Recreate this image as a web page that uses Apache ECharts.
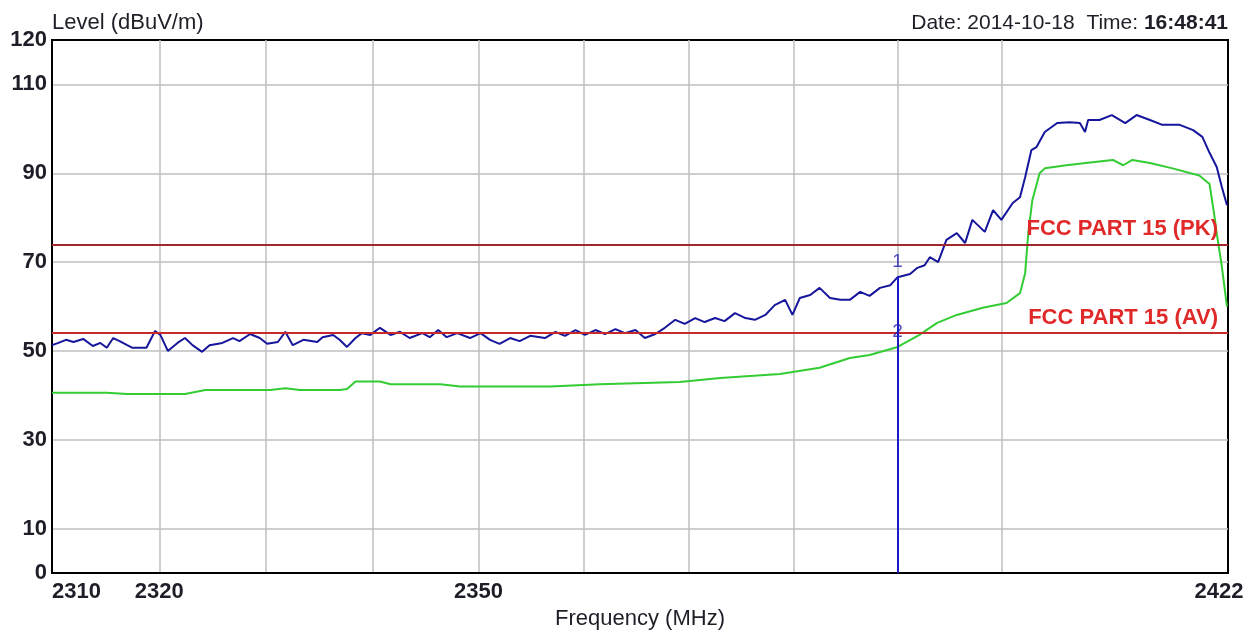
<!DOCTYPE html>
<html>
<head>
<meta charset="utf-8">
<script src="https://cdn.jsdelivr.net/npm/echarts@6/dist/echarts.min.js"></script>
<style>
  html, body { margin: 0; padding: 0; background: #fff; }
  #chart { width: 1249px; height: 634px; }
</style>
</head>
<body>
<div id="chart"></div>
<script>
// Peak detector trace (MHz, dBuV/m)
const peakFreq = [
  2310.0, 2310.6, 2311.3, 2312.0, 2312.9, 2313.8, 2314.5, 2315.1, 2315.7, 2316.3,
  2317.0, 2317.5, 2318.8, 2319.6, 2320.1, 2320.8, 2321.7, 2322.4, 2323.1, 2324.0,
  2324.7, 2325.9, 2326.9, 2327.5, 2328.5, 2329.4, 2330.1, 2331.1, 2331.8, 2332.5,
  2333.5, 2334.8, 2335.3, 2336.3, 2336.9, 2337.6, 2338.4, 2339.0, 2339.8, 2340.7,
  2341.7, 2342.6, 2343.5, 2344.7, 2345.4, 2346.2, 2347.0, 2348.0, 2349.2, 2350.2,
  2351.1, 2352.0, 2353.0, 2353.9, 2354.9, 2356.3, 2357.3, 2358.2, 2359.2, 2360.1,
  2361.1, 2362.0, 2363.0, 2363.9, 2364.9, 2365.8, 2366.8, 2367.7, 2368.7, 2369.6,
  2370.6, 2371.5, 2372.5, 2373.4, 2374.4, 2375.4, 2376.3, 2377.3, 2378.2, 2379.2,
  2379.9, 2380.6, 2381.6, 2382.5, 2383.5, 2384.5, 2385.4, 2386.4, 2387.3, 2388.3,
  2389.3, 2390.0, 2391.2, 2391.9, 2392.6, 2393.1, 2393.9, 2394.7, 2395.7, 2396.5,
  2397.2, 2398.4, 2399.2, 2400.0, 2401.1, 2401.8, 2402.3, 2402.9, 2403.4, 2404.2,
  2405.4, 2406.6, 2407.6, 2408.1, 2408.4, 2409.5, 2410.7, 2412.0, 2413.1, 2414.4,
  2415.6, 2417.3, 2418.6, 2419.5, 2420.2, 2420.9, 2421.4, 2421.9
];
const peakLevel = [
  51.3, 51.8, 52.5, 52.0, 52.7, 51.1, 51.8, 50.7, 52.9, 52.2,
  51.3, 50.7, 50.7, 54.5, 53.6, 50.0, 51.8, 52.9, 51.3, 49.8,
  51.3, 51.8, 52.9, 52.2, 53.8, 52.9, 51.6, 52.0, 54.3, 51.3,
  52.5, 52.0, 53.1, 53.6, 52.5, 50.9, 52.9, 54.0, 53.6, 55.2,
  53.6, 54.3, 52.9, 54.0, 53.1, 54.7, 53.1, 54.0, 52.9, 54.0,
  52.5, 51.6, 52.9, 52.2, 53.4, 52.9, 54.3, 53.4, 54.7, 53.6,
  54.7, 53.8, 54.9, 54.0, 54.7, 52.9, 53.8, 55.2, 57.0, 56.1,
  57.4, 56.5, 57.4, 56.7, 58.5, 57.4, 57.0, 58.1, 60.3, 61.5,
  58.1, 61.9, 62.6, 64.2, 61.9, 61.5, 61.5, 63.3, 62.4, 64.2,
  64.8, 66.6, 67.3, 68.7, 69.3, 71.1, 70.0, 75.0, 76.5, 74.3,
  79.5, 76.8, 81.7, 79.5, 83.3, 84.6, 89.1, 95.2, 95.9, 99.3,
  101.3, 101.5, 101.3, 99.3, 102.0, 102.0, 103.1, 101.3, 103.1, 102.0,
  100.9, 100.9, 99.7, 98.2, 94.6, 91.4, 86.9, 82.8
];

// Average detector trace (MHz, dBuV/m)
const avgFreq = [
  2310.0, 2315.1, 2317.0, 2322.4, 2324.3, 2330.4, 2331.8, 2333.2, 2336.9, 2337.6,
  2338.4, 2340.7, 2341.7, 2346.4, 2348.3, 2356.8, 2361.5, 2369.1, 2373.0, 2378.7,
  2382.5, 2385.4, 2387.3, 2390.0, 2392.1, 2393.8, 2395.7, 2398.2, 2400.5, 2401.8,
  2402.3, 2402.6, 2403.0, 2403.7, 2404.2, 2406.3, 2408.8, 2410.8, 2411.8, 2412.7,
  2414.4, 2416.6, 2419.2, 2420.2, 2420.7, 2420.9, 2421.4, 2421.9
];
const avgLevel = [
  40.6, 40.6, 40.3, 40.3, 41.2, 41.2, 41.6, 41.2, 41.2, 41.4,
  43.1, 43.1, 42.5, 42.5, 42.0, 42.0, 42.5, 43.0, 43.9, 44.8,
  46.2, 48.4, 49.1, 50.9, 53.6, 56.3, 58.1, 59.7, 60.8, 63.0,
  67.5, 76.5, 84.0, 90.0, 91.1, 91.8, 92.5, 93.0, 91.8, 93.0,
  92.3, 91.1, 89.5, 87.6, 80.0, 76.5, 69.0, 60.0
];

// Limit lines
const limitNames = ['FCC PART 15 (PK)', 'FCC PART 15 (AV)'];
const limitLevels = [74, 54];

// Markers at the band edge
const markerNames = ['1', '2'];
const markerFreq = [2390.0, 2390.0];
const markerLevel = [66.6, 50.9];

// Axis ticks and grid
const yLabelValues = [0, 10, 30, 50, 70, 90, 110, 120];
const yGridValues = [10, 30, 50, 70, 90, 110];
const xLabelFreqs = [2310, 2320, 2350, 2422];
const xGridFreqs = [2320, 2330, 2340, 2350, 2360, 2370, 2380, 2390, 2400];
const freqMin = 2310, freqMax = 2422;

// Frequency axis is logarithmic: plot log10(f)
const lx = f => Math.log10(f);
const toPairs = (fs, ls) => fs.map((f, i) => [lx(f), ls[i]]);

const FONT = "'Liberation Sans', Arial, sans-serif";
const TEXT = '#1e1e28';

const chart = echarts.init(document.getElementById('chart'), null, { renderer: 'canvas' });

chart.setOption({
  animation: false,
  backgroundColor: '#ffffff',
  title: {
    text: 'Date: 2014-10-18  Time: {b|16:48:41}',
    right: 16,
    top: 8,
    textStyle: {
      fontFamily: FONT, fontSize: 21, fontWeight: 'normal', color: TEXT,
      rich: { b: { fontFamily: FONT, fontSize: 21, fontWeight: 'bold', color: TEXT } }
    }
  },
  grid: {
    left: 52, right: 21, top: 40, bottom: 61,
    outerBoundsMode: 'none',
    containLabel: false,
    show: true, borderColor: '#000', borderWidth: 2, backgroundColor: '#fff'
  },
  xAxis: {
    type: 'value',
    min: lx(freqMin), max: lx(freqMax),
    name: 'Frequency (MHz)',
    nameLocation: 'middle',
    nameGap: 35,
    nameMoveOverlap: false,
    nameTextStyle: { fontFamily: FONT, fontSize: 22, color: TEXT },
    axisLine: { show: true, lineStyle: { color: '#000', width: 2 } },
    axisTick: { show: false, customValues: xGridFreqs.map(lx) },
    splitLine: { show: true, lineStyle: { color: '#bfbfbf', width: 1.5 } },
    axisLabel: {
      customValues: xLabelFreqs.map(lx),
      margin: 8,
      alignMinLabel: 'left',
      fontFamily: FONT, fontSize: 22, fontWeight: 'bold', color: TEXT,
      formatter: v => {
        const f = Math.round(Math.pow(10, v));
        return f === freqMax ? '{r|' + f + '}' : String(f);
      },
      rich: { r: { fontFamily: FONT, fontSize: 22, fontWeight: 'bold', color: TEXT, padding: [0, 18, 0, 0] } }
    }
  },
  yAxis: {
    type: 'value',
    min: 0, max: 120,
    name: 'Level (dBuV/m)',
    nameLocation: 'end',
    nameGap: 6,
    nameMoveOverlap: false,
    nameTextStyle: { fontFamily: FONT, fontSize: 22, color: TEXT, align: 'left', verticalAlign: 'bottom' },
    axisLine: { show: true, lineStyle: { color: '#000', width: 2 } },
    axisTick: { show: false, customValues: yGridValues },
    splitLine: { show: true, lineStyle: { color: '#bfbfbf', width: 1.5 } },
    axisLabel: {
      customValues: yLabelValues,
      margin: 5,
      fontFamily: FONT, fontSize: 22, fontWeight: 'bold', color: TEXT
    }
  },
  series: [
    {
      name: 'Limits',
      type: 'line',
      data: [],
      silent: true,
      markLine: {
        symbol: 'none',
        silent: true,
        animation: false,
        data: limitNames.map((n, i) => ({
          name: n,
          yAxis: limitLevels[i],
          lineStyle: { color: i === 0 ? '#a3282c' : '#c62a2a', width: 2, type: 'solid' },
          label: {
            show: true,
            formatter: n,
            position: 'insideEndTop',
            distance: [10, 4],
            fontFamily: FONT, fontSize: 22, fontWeight: 'bold', color: '#e02a2a'
          }
        }))
      }
    },
    {
      name: 'Average',
      type: 'line',
      data: toPairs(avgFreq, avgLevel),
      showSymbol: false,
      smooth: false,
      lineStyle: { color: '#33cc33', width: 2 },
      z: 3
    },
    {
      name: 'Peak',
      type: 'line',
      data: toPairs(peakFreq, peakLevel),
      showSymbol: false,
      smooth: false,
      lineStyle: { color: '#16169c', width: 2 },
      z: 4,
      markLine: {
        symbol: 'none',
        silent: true,
        label: { show: false },
        lineStyle: { color: '#1a1ac8', width: 2, type: 'solid' },
        data: [[
          { coord: [lx(markerFreq[0]), markerLevel[0]] },
          { coord: [lx(markerFreq[0]), 0] }
        ]]
      }
    },
    {
      name: 'Markers',
      type: 'scatter',
      data: toPairs(markerFreq, markerLevel),
      symbolSize: 0,
      z: 5,
      label: {
        show: true,
        position: 'top',
        distance: 6,
        formatter: p => markerNames[p.dataIndex],
        fontFamily: FONT, fontSize: 19, color: '#2222b0'
      }
    }
  ]
});
</script>
</body>
</html>
